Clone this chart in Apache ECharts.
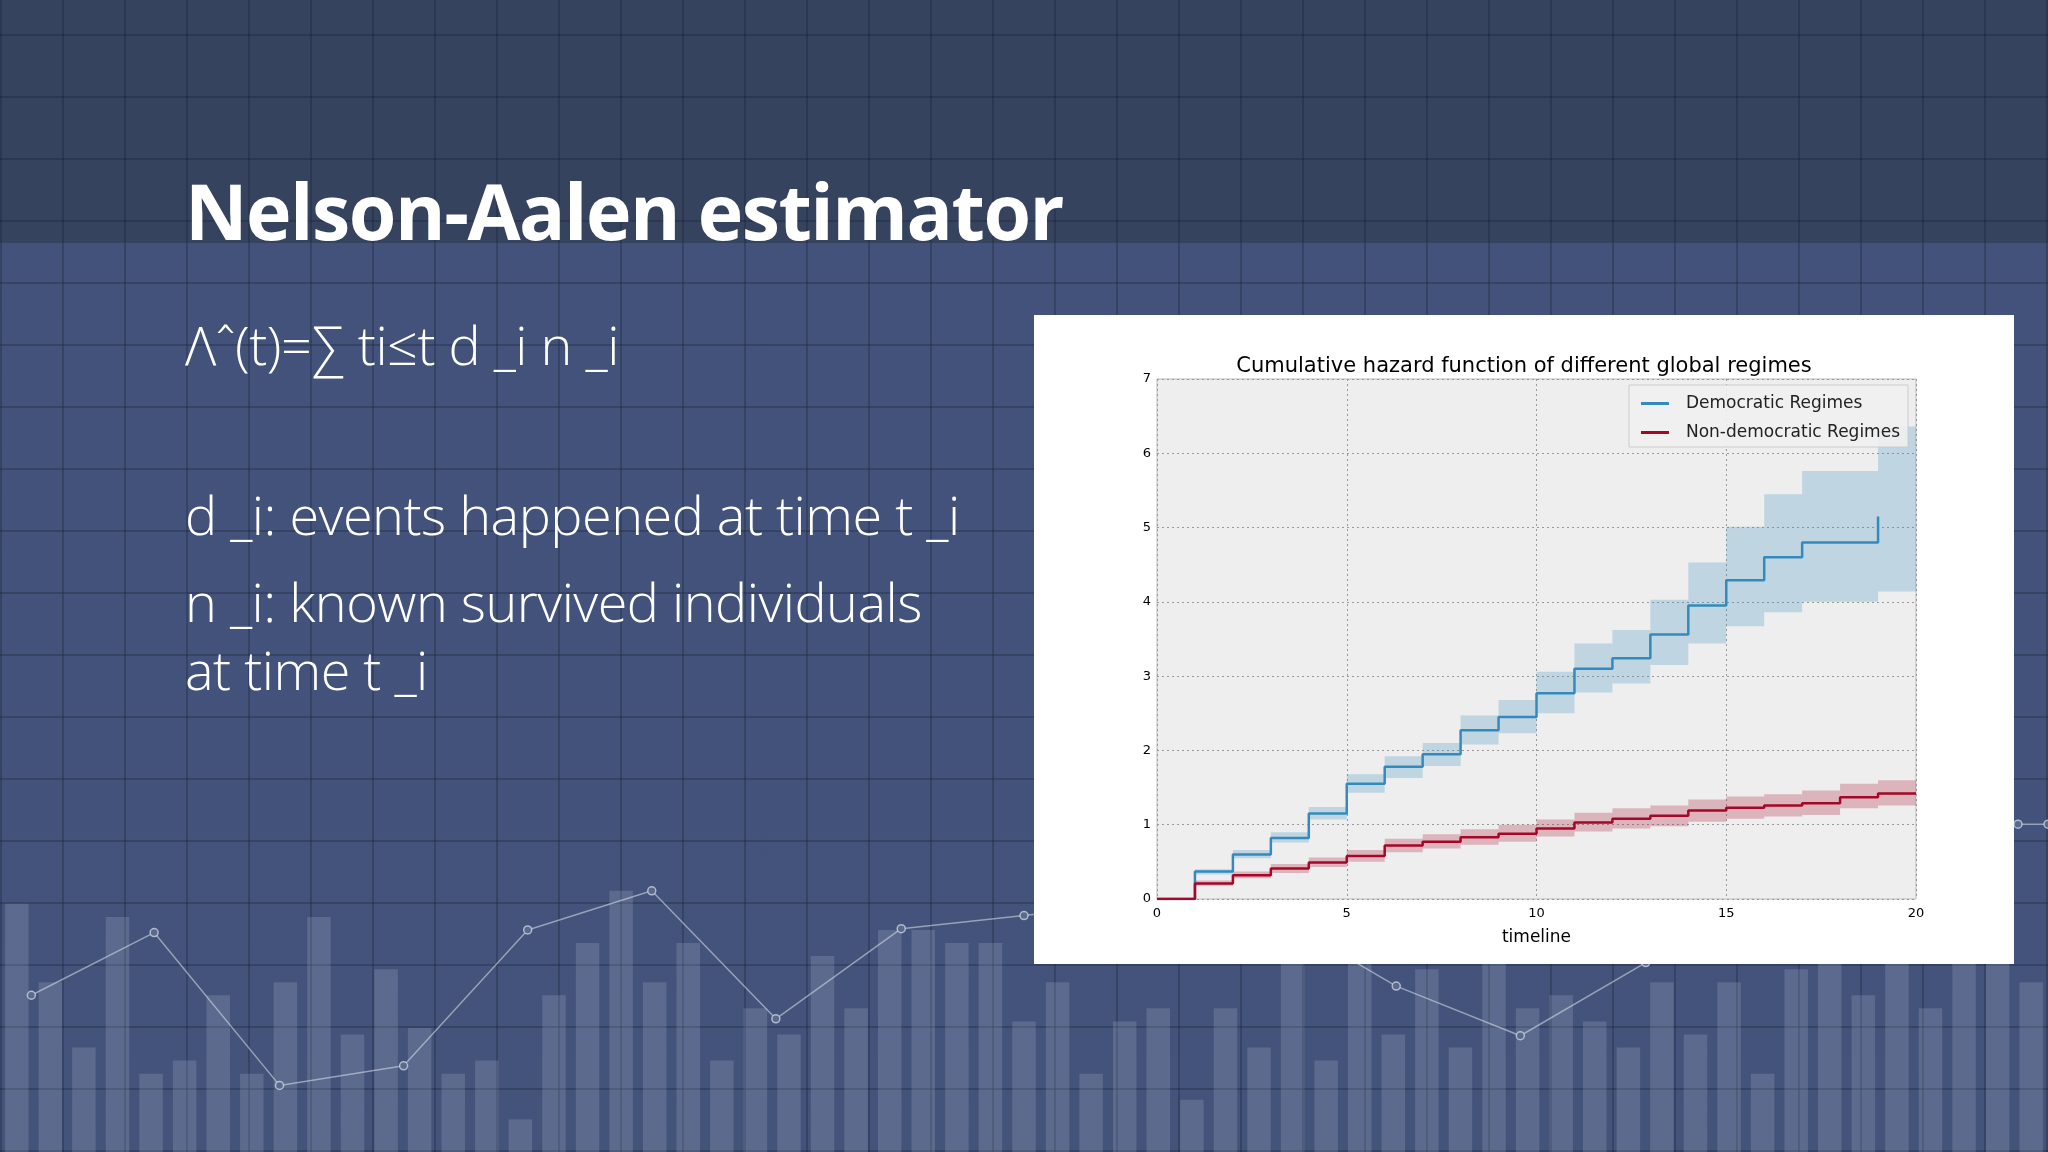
<!DOCTYPE html>
<html><head><meta charset="utf-8">
<script src="https://cdn.jsdelivr.net/npm/echarts@6/dist/echarts.min.js"></script>
<style>
html,body{margin:0;padding:0;width:2048px;height:1152px;overflow:hidden;font-family:"Open Sans","Noto Sans",sans-serif;}
#bg{position:absolute;left:0;top:0;width:2048px;height:1152px;
background:
 repeating-linear-gradient(90deg,rgba(20,30,50,0.3) 0 2px,transparent 2px 62px),
 repeating-linear-gradient(0deg,rgba(20,30,50,0.3) 0 2px,transparent 2px 62px),
 linear-gradient(180deg,#35435f 0,#35435f 243px,#43527a 243px,#44537a 100%);}
#deco{position:absolute;left:0;top:0;width:2048px;height:1152px;}
.t{position:absolute;color:#fff;white-space:nowrap;}
#title{left:185px;top:158px;font-size:77px;font-weight:700;font-family:"Open Sans",sans-serif;letter-spacing:-1.5px;}
.l{font-size:54px;font-weight:300;font-family:"Open Sans",sans-serif;letter-spacing:-0.5px;}
#box{position:absolute;left:1034px;top:315px;width:980px;height:649px;background:#fff;}
#chart{width:980px;height:649px;}
</style></head><body>
<div id="bg"></div>
<div id="deco"></div>
<div class="t" id="title">Nelson-Aalen estimator</div>
<div class="t l" style="left:185px;top:307px">Λˆ(t)=∑ ti≤t d _i n _i</div>
<div class="t l" style="left:185px;top:477px">d _i: events happened at time t _i</div>
<div class="t l" style="left:185px;top:564px">n _i: known survived individuals</div>
<div class="t l" style="left:185px;top:632px">at time t _i</div>
<div id="box"><div id="chart"></div></div>
<script>
// chart data
const times = [1,2,3,4,5,6,7,8,9,10,11,12,13,14,15,16,17,18,19];
const demEst = [0.37,0.6,0.82,1.15,1.55,1.78,1.95,2.27,2.45,2.77,3.1,3.24,3.56,3.95,4.29,4.6,4.8,4.8];
const demEnd = 5.15;
const demUp = [0.4,0.66,0.9,1.24,1.68,1.92,2.1,2.47,2.68,3.06,3.44,3.62,4.03,4.53,5.01,5.45,5.76,5.76,6.36];
const demLo = [0.33,0.55,0.76,1.07,1.43,1.63,1.79,2.08,2.23,2.5,2.78,2.9,3.15,3.44,3.67,3.86,4.0,4.0,4.14];
const ndEst = [0.21,0.32,0.41,0.49,0.58,0.72,0.77,0.83,0.88,0.95,1.03,1.08,1.12,1.19,1.23,1.26,1.29,1.37,1.42];
const ndUp = [0.25,0.37,0.47,0.56,0.66,0.81,0.87,0.94,1.0,1.07,1.16,1.22,1.26,1.34,1.38,1.41,1.46,1.55,1.6];
const ndLo = [0.18,0.28,0.35,0.43,0.5,0.63,0.68,0.73,0.77,0.84,0.91,0.95,0.98,1.04,1.08,1.11,1.13,1.22,1.26];
// decorative background data (pixel-like units, 1568 x 882 frame)
const decoBars = [190,130,80,180,60,70,120,60,130,180,90,140,95,60,70,25,120,160,200,130,160,70,110,90,150,110,170,170,160,160,100,130,60,100,110,40,110,80,150,70,180,90,140,80,160,110,120,100,80,130,90,130,60,140,150,120,170,110,160,200,130];
const decoLine = [[24,762],[118,714],[214,831],[309,816],[404,712],[499,682],[594,780],[690,711],[784,701],[880,690],[975,700],[1069,755],[1164,793],[1260,737],[1355,700],[1450,650],[1545,631],[1568,631]];

function steps(xs, ys){ return xs.map((x,i)=>[x,ys[i]]).concat([[20,ys[ys.length-1]]]); }
function band(lo, up){ return times.map((t,i)=>[t, lo[i], up[i]]); }
function bandSeries(data, color){
 return {type:'custom',silent:true,data:data,encode:{x:0,y:[1,2]},z:1,
  renderItem:function(params, api){
   const p1 = api.coord([api.value(0), api.value(2)]);
   const p2 = api.coord([api.value(0)+1, api.value(1)]);
   return {type:'rect',shape:{x:p1[0],y:p1[1],width:p2[0]-p1[0],height:p2[1]-p1[1]},style:{fill:color}};
  }};
}

const c = echarts.init(document.getElementById('chart'));
const blue='#348abd', red='#a60628';
c.setOption({
 animation:false,
 title:{text:'Cumulative hazard function of different global regimes',left:'center',top:36,textStyle:{fontFamily:'DejaVu Sans',fontWeight:'normal',fontSize:21,color:'#000'}},
 legend:{right:106,top:70,orient:'vertical',itemWidth:28,itemHeight:3,itemGap:12,backgroundColor:'rgba(240,240,240,0.9)',borderColor:'#ccc',borderWidth:1,padding:[10,8,6,12],
   textStyle:{fontFamily:'DejaVu Sans',fontSize:17,color:'#222',padding:[0,0,0,12]},
   data:[{name:'Democratic Regimes',icon:'rect'},{name:'Non-democratic Regimes',icon:'rect'}]},
 grid:{left:123,right:98,top:64,bottom:65,backgroundColor:'#eeeeee',show:true,borderColor:'#bbb',borderWidth:1},
 xAxis:{type:'value',min:0,max:20,interval:5,name:'timeline',nameLocation:'middle',nameGap:30,nameTextStyle:{fontFamily:'DejaVu Sans',fontSize:17,color:'#000'},
   axisLine:{show:false},axisTick:{show:false},axisLabel:{fontFamily:'DejaVu Sans',fontSize:13,color:'#000',margin:8},
   splitLine:{lineStyle:{type:[2,3],color:'#999'}}},
 yAxis:{type:'value',min:0,max:7,interval:1,axisLine:{show:false},axisTick:{show:false},axisLabel:{fontFamily:'DejaVu Sans',fontSize:13,color:'#000',margin:6},
   splitLine:{lineStyle:{type:[2,3],color:'#999'}}},
 series:[
  bandSeries(band(demLo,demUp),'rgba(52,138,189,0.25)'),
  bandSeries(band(ndLo,ndUp),'rgba(166,6,40,0.25)'),
  {name:'Democratic Regimes',type:'line',step:'end',symbol:'none',color:blue,z:3,lineStyle:{width:2.5,color:blue},
   data:[[0,0]].concat(times.slice(0,18).map((x,i)=>[x,demEst[i]])).concat([[19,demEnd]])},
  {name:'Non-democratic Regimes',type:'line',step:'end',symbol:'none',color:red,z:3,lineStyle:{width:2.5,color:red},
   data:[[0,0]].concat(steps(times,ndEst))}
 ]
});

const d = echarts.init(document.getElementById('deco'));
d.setOption({
 animation:false,
 grid:[{left:0,right:0,top:0,bottom:0}],
 xAxis:[{type:'category',show:false,data:decoBars.map((_,i)=>i),boundaryGap:true},{type:'value',show:false,min:0,max:1568}],
 yAxis:[{type:'value',show:false,min:0,max:882},{type:'value',show:false,min:0,max:882,inverse:true}],
 series:[
  {type:'bar',xAxisIndex:0,yAxisIndex:0,barWidth:'70%',data:decoBars,itemStyle:{color:'rgba(200,210,230,0.18)'}},
  {type:'line',xAxisIndex:1,yAxisIndex:1,data:decoLine,symbol:'circle',symbolSize:8,lineStyle:{color:'rgba(220,225,235,0.55)',width:1.5},itemStyle:{color:'#5a6a8c',borderColor:'rgba(220,225,235,0.7)',borderWidth:1.5}}
 ]
});
</script></body></html>
